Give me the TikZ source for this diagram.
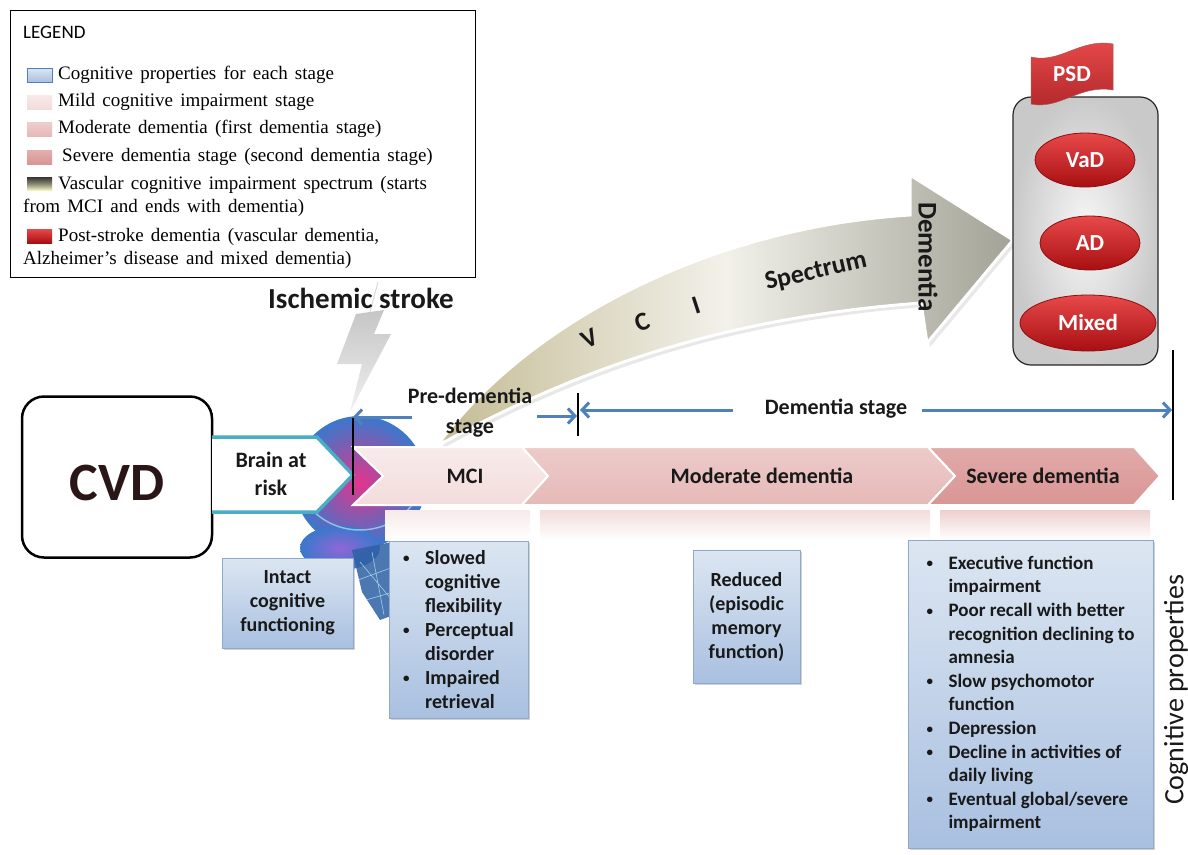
\documentclass[tikz,border=0pt]{standalone}
\usepackage{fontspec}
\setmainfont{Liberation Serif}
\setsansfont{Carlito}
\usetikzlibrary{shapes.geometric,arrows.meta,shadows,calc}
\definecolor{tealline}{HTML}{4BACC6}
\definecolor{arrowblue}{HTML}{4F81BD}
\definecolor{mcic}{HTML}{F2DCDB}
\definecolor{modc}{HTML}{E6B9B8}
\definecolor{sevc}{HTML}{D99594}
\definecolor{boxtop}{HTML}{DCE6F2}
\definecolor{boxbot}{HTML}{A9C0E0}
\definecolor{boxline}{HTML}{8EA9CC}
\definecolor{redtop}{HTML}{E8494A}
\definecolor{redbot}{HTML}{A80F12}
\definecolor{redline}{HTML}{8E0E10}
\definecolor{khaki}{HTML}{C4BB94}
\definecolor{grayhead}{HTML}{A3A296}
\definecolor{vcimid}{HTML}{F2F1EA}
\definecolor{cvdtext}{HTML}{2A1616}
\definecolor{brainpink}{HTML}{E2358C}
\definecolor{brainblue}{HTML}{3A78CC}
\newcommand\mybul{\makebox[22pt][l]{\raisebox{1.5pt}{\fontsize{13}{13}\selectfont\textbullet}}}
\newcommand\myind{\makebox[22pt]{}}
\newcommand\legfont{\rmfamily\fontsize{19}{21}\selectfont\spaceskip=0.38em plus 0.1em\relax}
\begin{document}
\begin{tikzpicture}[x=1pt,y=-1pt,
  legtext/.style={anchor=west,inner sep=0,font=\legfont},
  swatch/.style={minimum width=25pt,minimum height=14pt,inner sep=0,draw=none},
  lab/.style={font=\sffamily\bfseries\fontsize{22}{26}\selectfont,text=black!90,align=center,inner sep=0},
  vcilab/.style={font=\sffamily\bfseries\fontsize{26}{30}\selectfont,text=black!90,inner sep=0},
  pbox/.style={draw=boxline,line width=0.8pt,top color=boxtop,bottom color=boxbot,
     drop shadow={opacity=0.35,shadow xshift=2pt,shadow yshift=-2pt},
     font=\sffamily\bfseries\fontsize{20}{24}\selectfont,text=black!90,inner sep=0},
  redell/.style={ellipse,draw=redline,line width=0.8pt,top color=redtop,bottom color=redbot,
     text=white,font=\sffamily\bfseries\fontsize{23}{26}\selectfont,inner sep=0},
  vbar/.style={line width=2.5pt,black},
  barrow/.style={line width=3pt,arrowblue,-{Straight Barb[length=7pt,width=15pt]}},
  chev/.style={draw=white,line width=2pt}
]
\useasboundingbox (0,0) rectangle (1188,854);
\fill[white] (0,0) rectangle (1188,854);

% ---------------- Legend ----------------
\node[draw,line width=1.3pt,minimum width=465pt,minimum height=267pt,anchor=north west,inner sep=0] (legend) at (10,10) {};
\node[anchor=west,inner sep=0,font=\sffamily\fontsize{19}{21}\selectfont] (legtitle) at (23,32) {LEGEND};
\node[swatch,draw=arrowblue,line width=0.8pt,top color=boxtop,bottom color=boxbot] (sw1) at (39.5,75) {};
\node[swatch,top color=mcic!60,bottom color=mcic] (sw2) at (39.5,102) {};
\node[swatch,top color=modc!70,bottom color=modc] (sw3) at (39.5,129) {};
\node[swatch,top color=sevc!75,bottom color=sevc] (sw4) at (39.5,157) {};
\node[swatch,top color=black!80,bottom color=yellow!15,middle color=yellow!10!gray] (sw5) at (39.5,184) {};
\node[swatch,top color=redtop,bottom color=redbot] (sw6) at (39.5,236) {};
\node[legtext] (lt1) at (58,75) {Cognitive properties for each stage};
\node[legtext] (lt2) at (58,102) {Mild cognitive impairment stage};
\node[legtext] (lt3) at (58,129) {Moderate dementia (first dementia stage)};
\node[legtext] (lt4) at (62,157) {Severe dementia stage (second dementia stage)};
\node[legtext] (lt5) at (58,185) {Vascular cognitive impairment spectrum (starts};
\node[legtext] (lt5b) at (23,208) {from MCI and ends with dementia)};
\node[legtext] (lt6) at (58,237) {Post-stroke dementia (vascular dementia,};
\node[legtext] (lt6b) at (23,260) {Alzheimer's disease and mixed dementia)};

% ---------------- Lightning (ischemic stroke) ----------------
\draw[gray!30,line width=1pt] (370,312) -- (378,282);
\path[top color=gray!45,bottom color=gray!12] (356,314) -- (384,310) -- (374,334) -- (391,334) -- (350,412) -- (362,364) -- (337,364) -- cycle;
\node[font=\sffamily\bfseries\fontsize{29}{32}\selectfont,text=black!90,inner sep=0] (isch) at (361,298) {Ischemic stroke};

% ---------------- Brain (stylised) ----------------
\path[inner color=brainpink,outer color=brainblue] (360,482) ellipse [x radius=66, y radius=66];
\path[inner color=violet!55!blue!60,outer color=brainblue] (340,548) ellipse [x radius=40, y radius=22];
\path[fill=brainblue!80!black,opacity=0.85] (352,550) -- (392,542) -- (402,612) -- (380,620) -- (362,592) -- cycle;
\draw[cyan!30,line width=0.6pt,opacity=0.8] (360,562) -- (392,600) (372,552) -- (384,615) (358,580) -- (396,566) (366,600) -- (400,590);
\draw[cyan!35,line width=1.5pt,opacity=0.7] (296,470) arc[start angle=180,end angle=20,x radius=64,y radius=60];

% ---------------- CVD ----------------
\node[draw,line width=2.5pt,rounded corners=22pt,minimum width=190pt,minimum height=161pt,fill=white,inner sep=0] (cvd) at (117,477) {};
\node[font=\sffamily\bfseries\fontsize{54}{58}\selectfont,text=cvdtext,inner sep=0] (cvdtxt) at (117,483) {CVD};

% ---------------- Brain at risk chevron ----------------
\coordinate (rk1) at (212,437);
\coordinate (rk2) at (317,437);
\coordinate (rk3) at (353,475);
\coordinate (rk4) at (317,512);
\coordinate (rk5) at (212,512);
\fill[white] (rk1) -- (rk2) -- (rk3) -- (rk4) -- (rk5) -- cycle;
\draw[tealline,line width=3.5pt,line join=miter] (rk1) -- (rk2) -- (rk3) -- (rk4) -- (rk5);
\node[lab] (risk) at (271,474) {Brain at\\[2pt]risk};

% ---------------- VCI spectrum arrow ----------------
\begin{scope}[shift={(3,4)}]
\fill[black!9] (437,446) .. controls (520,330) and (700,228) .. (910,215) -- (910,175) -- (1013,240) -- (927,343) -- (921,303) .. controls (720,318) and (575,370) .. (437,446) -- cycle;
\end{scope}
\path[draw=white,line width=3pt,line join=miter,left color=khaki,right color=grayhead,middle color=vcimid]
  (437,446) .. controls (520,330) and (700,228) .. (910,215) -- (910,175) -- (1013,240) -- (927,343) -- (921,303) .. controls (720,318) and (575,370) .. (437,446) -- cycle;
\node[vcilab,rotate=26] (vV) at (590,339) {V};
\node[vcilab,rotate=21] (vC) at (642,322) {C};
\node[vcilab,rotate=18] (vI) at (696,305) {I};
\node[vcilab,rotate=13] (vS) at (816,272) {Spectrum};
\node[font=\sffamily\bfseries\fontsize{27}{30}\selectfont,text=black!90,rotate=-90,inner sep=0] (vDem) at (928,257) {Dementia};

% ---------------- Stage bar ----------------
\path[chev,top color=mcic!55,bottom color=mcic] (353,447) -- (522,447) -- (548,476) -- (522,505) -- (353,505) -- (383,476) -- cycle;
\path[chev,top color=modc!75,bottom color=modc] (522,447) -- (928,447) -- (955,476) -- (928,505) -- (522,505) -- (548,476) -- cycle;
\path[chev,top color=sevc!80,bottom color=sevc] (928,447) -- (1134,447) -- (1160,476) -- (1134,505) -- (928,505) -- (955,476) -- cycle;
\shade[top color=mcic!60,bottom color=white] (385,510) rectangle (530,540);
\shade[top color=modc!50,bottom color=white] (540,510) rectangle (930,540);
\shade[top color=sevc!45,bottom color=white] (940,510) rectangle (1150,540);
\node[lab] (mci) at (465,476) {MCI};
\node[lab] (mod) at (762,476) {Moderate dementia};
\node[lab] (sev) at (1043,476) {Severe dementia};

% ---------------- Stage markers and arrows ----------------
\coordinate (v1t) at (353,418);
\coordinate (v1b) at (353,495);
\coordinate (v2t) at (578,393);
\coordinate (v2b) at (578,436);
\coordinate (v3t) at (1173,350);
\coordinate (v3b) at (1173,500);
\draw[vbar] (v1t) -- (v1b);
\draw[vbar] (v2t) -- (v2b);
\draw[vbar] (v3t) -- (v3b);
\node[lab,font=\sffamily\bfseries\fontsize{22}{30}\selectfont] (pre) at (470,413) {Pre-dementia\\stage};
\node[lab] (demst) at (836,409) {Dementia stage};
\coordinate (pa1) at (412,417);
\coordinate (pa2) at (537,416);
\coordinate (da1) at (733,410);
\coordinate (da2) at (922,410);
\draw[barrow] (pa1) -- (v1t |- pa1);
\draw[barrow] (pa2) -- ($(v2t |- pa2)+(-1,0)$);
\draw[barrow] (da1) -- ($(v2t |- da1)+(2,0)$);
\draw[barrow] (da2) -- ($(v3t |- da2)+(-1,0)$);

% ---------------- PSD box ----------------
\node[draw=black!85,line width=1.2pt,rounded corners=18pt,minimum width=145pt,minimum height=268pt,inner color=gray!6,outer color=gray!42,inner sep=0] (psdbox) at (1085.5,231) {};
\path[top color=redtop,bottom color=redbot!90,draw=redline!70,line width=0.5pt]
  (1031,57) .. controls (1060,64) and (1080,38) .. (1113,44) -- (1113,90) .. controls (1080,84) and (1060,110) .. (1031,104) -- cycle;
\node[text=white,font=\sffamily\bfseries\fontsize{23}{26}\selectfont,inner sep=0] (psd) at (1072,74) {PSD};
\node[redell,minimum width=100pt,minimum height=54pt] (vad) at (1085,160) {VaD};
\node[redell,minimum width=100pt,minimum height=54pt] (ad) at (1090,243) {AD};
\node[redell,minimum width=136pt,minimum height=56pt] (mixed) at (1088,323) {Mixed};

% ---------------- Cognitive property boxes ----------------
\node[pbox,minimum width=131pt,minimum height=90pt,align=center] (intact) at (287.5,603) {Intact\\cognitive\\functioning};
\node[pbox,minimum width=139pt,minimum height=177pt,align=left] (mcibox) at (458.5,629.5)
  {\mybul Slowed\\\myind cognitive\\\myind flexibility\\\mybul Perceptual\\\myind disorder\\\mybul Impaired\\\myind retrieval};
\node[pbox,minimum width=107pt,minimum height=133pt,align=center] (redbox) at (746.5,616.5) {Reduced\\(episodic\\memory\\function)};
\node[pbox,minimum width=245pt,minimum height=308pt,align=left,font=\sffamily\bfseries\fontsize{19}{23.6}\selectfont] (sevbox) at (1030.5,694)
  {\mybul Executive function\\\myind impairment\\\mybul Poor recall with better\\\myind recognition declining to\\\myind amnesia\\\mybul Slow psychomotor\\\myind function\\\mybul Depression\\\mybul Decline in activities of\\\myind daily living\\\mybul Eventual global/severe\\\myind impairment};
\node[font=\sffamily\fontsize{28}{30}\selectfont,rotate=90,inner sep=0,text=black!90] (cogprop) at (1176,690) {Cognitive properties};
\end{tikzpicture}
\end{document}
